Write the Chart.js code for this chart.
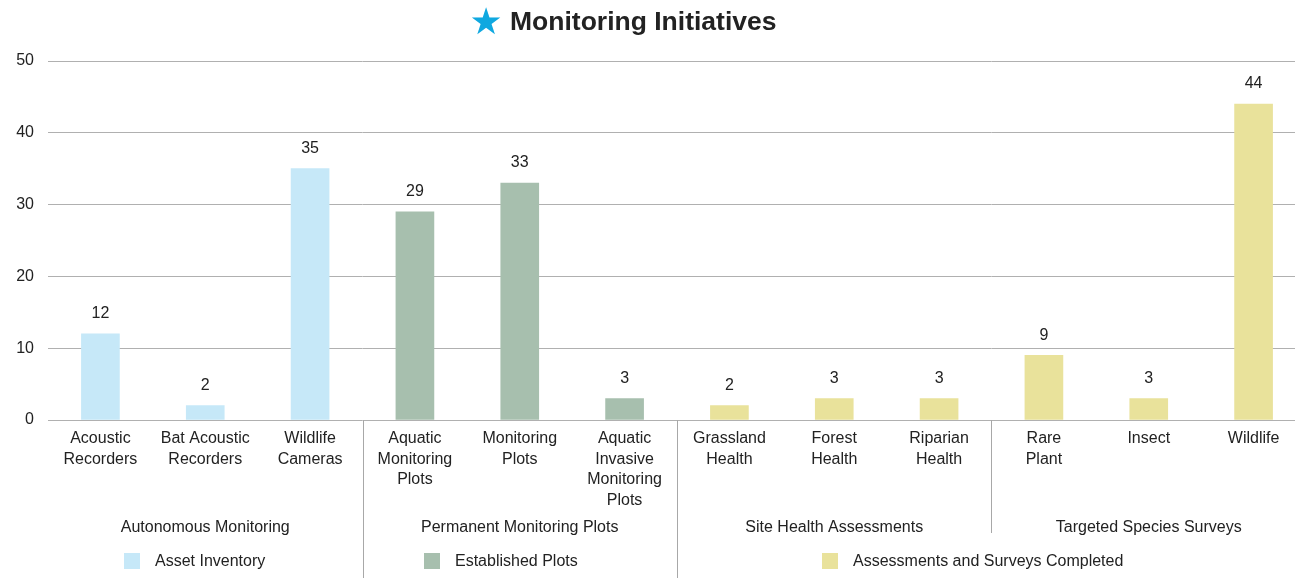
<!DOCTYPE html>
<html>
<head>
<meta charset="utf-8">
<script src="https://cdn.jsdelivr.net/npm/chart.js@4"></script>
<style>
  html, body { margin: 0; padding: 0; background: #fff; overflow: hidden; }
  #wrap { width: 1295px; height: 578px; overflow: hidden; }
</style>
</head>
<body>
<div id="wrap"><canvas id="myChart" width="1310" height="578"></canvas></div>
<script>
// categories (multi-line tick labels)
const categories = [
  ["Acoustic", "Recorders"],
  ["Bat Acoustic", "Recorders"],
  ["Wildlife", "Cameras"],
  ["Aquatic", "Monitoring", "Plots"],
  ["Monitoring", "Plots"],
  ["Aquatic", "Invasive", "Monitoring", "Plots"],
  ["Grassland", "Health"],
  ["Forest", "Health"],
  ["Riparian", "Health"],
  ["Rare", "Plant"],
  ["Insect"],
  ["Wildlife"],
];
const counts = [12, 2, 35, 29, 33, 3, 2, 3, 3, 9, 3, 44];
// which group each bar belongs to
const groupOf = [0, 0, 0, 1, 1, 1, 2, 2, 2, 3, 3, 3];
const groupNames = [
  "Autonomous Monitoring",
  "Permanent Monitoring Plots",
  "Site Health Assessments",
  "Targeted Species Surveys",
];
// legend series: label + first/last group it sits under
const seriesNames = ["Asset Inventory", "Established Plots", "Assessments and Surveys Completed"];
const seriesOfGroup = [0, 1, 2, 2];
const seriesColors = ["#c6e8f8", "#a7bfae", "#e9e29b"];

const font = "Liberation Sans, Arial, sans-serif";

const barColors = groupOf.map((g) => seriesColors[seriesOfGroup[g]]);

const extras = {
  id: "extras",
  afterDatasetsDraw(chart) {
    const { ctx, chartArea } = chart;
    const x = chart.scales.x;
    const y = chart.scales.y;
    ctx.save();

    // value labels above bars
    ctx.fillStyle = "#222";
    ctx.font = `16px ${font}`;
    ctx.textAlign = "center";
    ctx.textBaseline = "middle";
    counts.forEach((v, i) => {
      ctx.fillText(String(v), x.getPixelForValue(i), y.getPixelForValue(v) - 20);
    });

    // title
    ctx.font = `bold 26.5px ${font}`;
    ctx.textAlign = "left";
    ctx.fillStyle = "#222";
    ctx.fillText("Monitoring Initiatives", 510, 23);
    ctx.fillStyle = "#0fa8e0";
    ctx.font = `37px DejaVu Sans, sans-serif`;
    ctx.textAlign = "center";
    ctx.fillText("★", 486, 24);

    // group separators, group labels
    const half = (x.getPixelForValue(1) - x.getPixelForValue(0)) / 2;
    const bottom = chartArea.bottom;
    ctx.strokeStyle = "#a8a8a8";
    ctx.lineWidth = 1;
    for (let i = 1; i < counts.length; i++) {
      if (groupOf[i] !== groupOf[i - 1]) {
        const px = Math.round(x.getPixelForValue(i) - half) + 0.5;
        const sameSeries = seriesOfGroup[groupOf[i]] === seriesOfGroup[groupOf[i - 1]];
        ctx.beginPath();
        ctx.moveTo(px, bottom);
        ctx.lineTo(px, sameSeries ? 533 : 578);
        ctx.stroke();
      }
    }

    ctx.fillStyle = "#222";
    ctx.font = `16px ${font}`;
    ctx.textAlign = "center";
    groupNames.forEach((name, g) => {
      const idx = groupOf.map((v, i) => (v === g ? i : -1)).filter((i) => i >= 0);
      const cx = (x.getPixelForValue(idx[0]) + x.getPixelForValue(idx[idx.length - 1])) / 2;
      ctx.fillText(name, cx, 528);
    });

    // legend row
    seriesNames.forEach((name, s) => {
      const idx = groupOf.map((g, i) => (seriesOfGroup[g] === s ? i : -1)).filter((i) => i >= 0);
      const cx = (x.getPixelForValue(idx[0]) + x.getPixelForValue(idx[idx.length - 1])) / 2;
      ctx.font = `16px ${font}`;
      const w = ctx.measureText(name).width;
      const total = 16 + 15 + w;
      const left = Math.round(cx - total / 2 - (s === 0 ? 11 : 19));
      ctx.fillStyle = seriesColors[s];
      ctx.fillRect(left, 553, 16, 16);
      ctx.fillStyle = "#222";
      ctx.textAlign = "left";
      ctx.fillText(name, left + 31, 562);
    });

    ctx.restore();
  },
};

new Chart(document.getElementById("myChart"), {
  type: "bar",
  data: {
    labels: categories,
    datasets: [
      {
        label: "Count",
        data: counts,
        backgroundColor: barColors,
        barThickness: 38,
      },
    ],
  },
  options: {
    responsive: false,
    animation: false,
    devicePixelRatio: 1,
    layout: { padding: { top: 61, right: 4, left: 0, bottom: 0 } },
    plugins: {
      legend: { display: false },
      tooltip: { enabled: false },
      title: { display: false },
    },
    scales: {
      x: {
        grid: { display: false },
        border: { display: false },
        ticks: {
          color: "#222",
          font: { family: font, size: 16, lineHeight: 1.3 },
          maxRotation: 0,
          autoSkip: false,
          padding: 0,
        },
        afterFit(scale) {
          scale.height = 158;
        },
      },
      y: {
        min: 0,
        max: 50,
        ticks: {
          stepSize: 10,
          color: "#222",
          font: { family: font, size: 16 },
          padding: 14,
        },
        grid: { color: "#b0b0b0", drawTicks: false },
        border: { display: false },
        afterFit(scale) {
          scale.width = 48;
        },
      },
    },
  },
  plugins: [extras],
});
</script>
</body>
</html>
